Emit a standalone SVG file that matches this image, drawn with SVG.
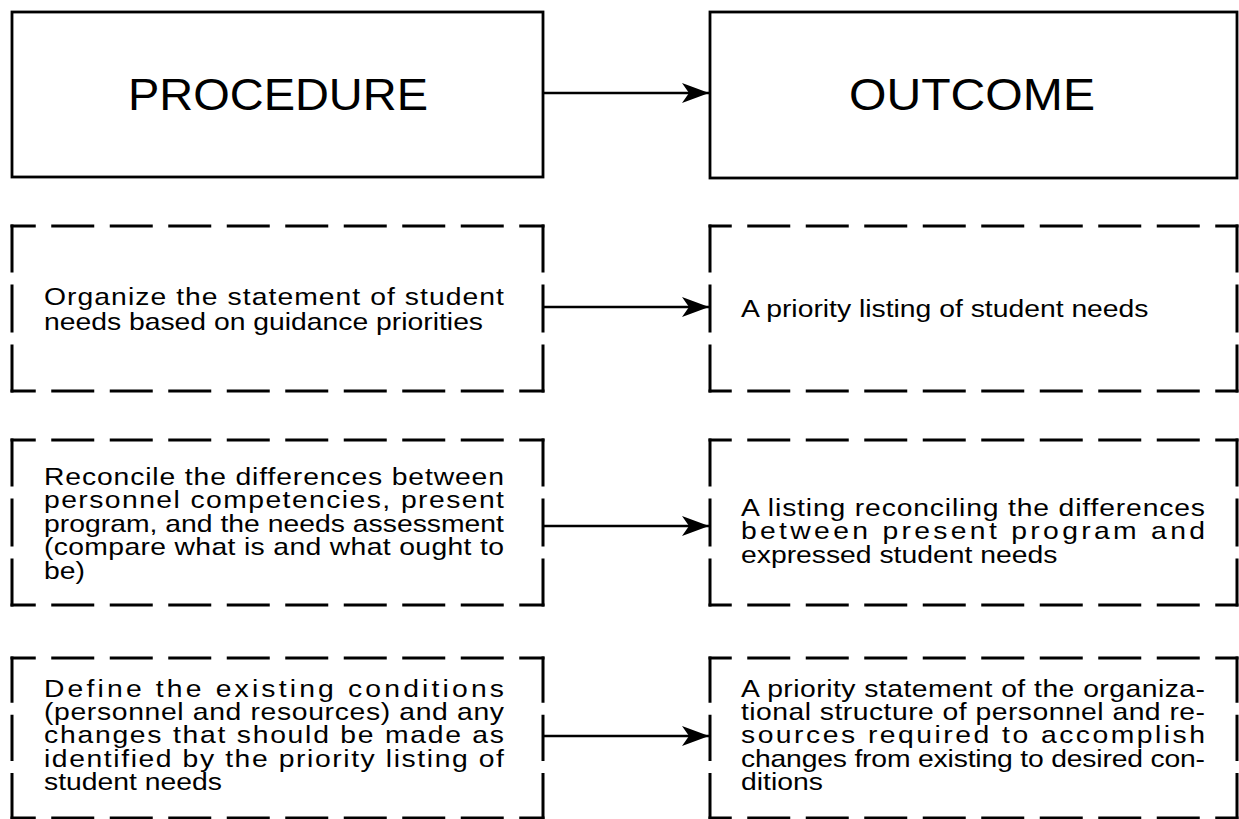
<svg xmlns="http://www.w3.org/2000/svg" xmlns:xlink="http://www.w3.org/1999/xlink" width="1239" height="819" viewBox="0 0 1239 819">
  <style>
    .box { fill: none; stroke: #000; stroke-width: 2.8; }
    .dash { stroke: #000; stroke-width: 3; stroke-linecap: square; fill: none; }
    .hl { stroke-dasharray: 22.25 18.5 40 18.5 40 18.5 40 18.5 40 18.5 40 18.5 40 18.5 40 18.5 40 18.5 22.25 60; }
    .hr { stroke-dasharray: 20.25 18.5 40 18.5 40 18.5 40 18.5 40 18.5 40 18.5 40 18.5 40 18.5 40 18.5 20.25 60; }
    .v { stroke-dasharray: 45 15 45 15 45 60; }
    .v3 { stroke-dasharray: 43.3 15 43.3 15 43.3 60; }
    .title { font-family: "Liberation Sans", Arial, Helvetica, sans-serif; font-size: 44px; fill: #000; text-anchor: middle; }
    .body { font-family: "Liberation Sans", Arial, Helvetica, sans-serif; font-size: 24px; fill: #000; }
    .conn { stroke: #000; stroke-width: 2.4; fill: none; marker-end: url(#ah); }
  </style>
  <defs>
    <marker id="ah" markerUnits="userSpaceOnUse" markerWidth="28" markerHeight="20" refX="27" refY="10" orient="auto" viewBox="0 0 28 20">
      <path d="M0,0 L27,10 L0,20 L7,10 z" fill="#000"/>
    </marker>
    <!-- dashed frames drawn from their top-left corner -->
    <g id="frameL">
      <line class="dash hl" x1="0" y1="0" x2="531" y2="0"/>
      <line class="dash hl" x1="0" y1="165" x2="531" y2="165"/>
      <line class="dash v" x1="0" y1="0" x2="0" y2="165"/>
      <line class="dash v" x1="531" y1="0" x2="531" y2="165"/>
    </g>
    <g id="frameR">
      <line class="dash hr" x1="0" y1="0" x2="527" y2="0"/>
      <line class="dash hr" x1="0" y1="165" x2="527" y2="165"/>
      <line class="dash v" x1="0" y1="0" x2="0" y2="165"/>
      <line class="dash v" x1="527" y1="0" x2="527" y2="165"/>
    </g>
    <g id="frameL3">
      <line class="dash hl" x1="0" y1="0" x2="531" y2="0"/>
      <line class="dash hl" x1="0" y1="160" x2="531" y2="160"/>
      <line class="dash v3" x1="0" y1="0" x2="0" y2="160"/>
      <line class="dash v3" x1="531" y1="0" x2="531" y2="160"/>
    </g>
    <g id="frameR3">
      <line class="dash hr" x1="0" y1="0" x2="527" y2="0"/>
      <line class="dash hr" x1="0" y1="160" x2="527" y2="160"/>
      <line class="dash v3" x1="0" y1="0" x2="0" y2="160"/>
      <line class="dash v3" x1="527" y1="0" x2="527" y2="160"/>
    </g>
  </defs>
  <rect width="1239" height="819" fill="#fff"/>

  <!-- headings -->
  <g id="procedure">
    <rect class="box" x="12" y="12" width="531" height="165"/>
    <text class="title" x="278" y="110" textLength="300" lengthAdjust="spacingAndGlyphs">PROCEDURE</text>
  </g>
  <g id="outcome">
    <rect class="box" x="710" y="12" width="527" height="166"/>
    <text class="title" x="972" y="110" textLength="246" lengthAdjust="spacingAndGlyphs">OUTCOME</text>
  </g>

  <!-- step 1 -->
  <g id="proc1">
    <use xlink:href="#frameL" x="12" y="226"/>
    <g class="body" transform="translate(44 0) scale(1.18 1)">
      <text x="0" y="305" textLength="389.8" lengthAdjust="spacing">Organize the statement of student</text>
      <text x="0" y="330">needs based on guidance priorities</text>
    </g>
  </g>
  <g id="out1">
    <use xlink:href="#frameR" x="710" y="226"/>
    <g class="body" transform="translate(741 0) scale(1.18 1)">
      <text x="0" y="317">A priority listing of student needs</text>
    </g>
  </g>

  <!-- step 2 -->
  <g id="proc2">
    <use xlink:href="#frameL" x="12" y="440"/>
    <g class="body" transform="translate(44 0) scale(1.18 1)">
      <text x="0" y="485" textLength="389.8" lengthAdjust="spacing">Reconcile the differences between</text>
      <text x="0" y="508.5" textLength="389.8" lengthAdjust="spacing">personnel competencies, present</text>
      <text x="0" y="532" textLength="389.8" lengthAdjust="spacing">program, and the needs assessment</text>
      <text x="0" y="555.5" textLength="389.8" lengthAdjust="spacing">(compare what is and what ought to</text>
      <text x="0" y="579">be)</text>
    </g>
  </g>
  <g id="out2">
    <use xlink:href="#frameR" x="710" y="440"/>
    <g class="body" transform="translate(741 0) scale(1.18 1)">
      <text x="0" y="516" textLength="393.2" lengthAdjust="spacing">A listing reconciling the differences</text>
      <text x="0" y="539.5" textLength="393.2" lengthAdjust="spacing">between present program and</text>
      <text x="0" y="563">expressed student needs</text>
    </g>
  </g>

  <!-- step 3 -->
  <g id="proc3">
    <use xlink:href="#frameL3" x="12" y="658"/>
    <g class="body" transform="translate(44 0) scale(1.18 1)">
      <text x="0" y="697" textLength="389.8" lengthAdjust="spacing">Define the existing conditions</text>
      <text x="0" y="720" textLength="389.8" lengthAdjust="spacing">(personnel and resources) and any</text>
      <text x="0" y="743.5" textLength="389.8" lengthAdjust="spacing">changes that should be made as</text>
      <text x="0" y="767" textLength="389.8" lengthAdjust="spacing">identified by the priority listing of</text>
      <text x="0" y="790">student needs</text>
    </g>
  </g>
  <g id="out3">
    <use xlink:href="#frameR3" x="710" y="658"/>
    <g class="body" transform="translate(741 0) scale(1.18 1)">
      <text x="0" y="697" textLength="393.2" lengthAdjust="spacing">A priority statement of the organiza-</text>
      <text x="0" y="720" textLength="393.2" lengthAdjust="spacing">tional structure of personnel and re-</text>
      <text x="0" y="743.5" textLength="393.2" lengthAdjust="spacing">sources required to accomplish</text>
      <text x="0" y="767" textLength="393.2" lengthAdjust="spacing">changes from existing to desired con-</text>
      <text x="0" y="790">ditions</text>
    </g>
  </g>

  <!-- connectors -->
  <g id="connectors">
    <line class="conn" x1="543" y1="93" x2="709" y2="93"/>
    <line class="conn" x1="543" y1="307" x2="709" y2="307"/>
    <line class="conn" x1="543" y1="526" x2="709" y2="526"/>
    <line class="conn" x1="543" y1="736" x2="709" y2="736"/>
  </g>
</svg>
